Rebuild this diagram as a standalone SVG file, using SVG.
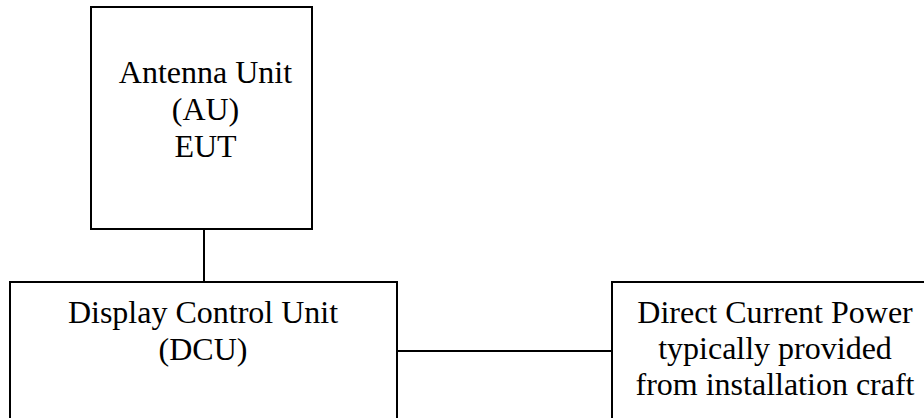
<svg xmlns="http://www.w3.org/2000/svg" width="924" height="418" viewBox="0 0 924 418">
<style>
.box{fill:#fff;stroke:#000;stroke-width:2}
.t{font-family:"Liberation Serif","Times New Roman",serif;font-size:32px;fill:#000;text-anchor:middle}
.c{stroke:#000;stroke-width:2;fill:none}
</style>
<rect width="924" height="418" fill="#fff"/>
<g id="connectors">
<line class="c" x1="204" y1="229" x2="204" y2="282"/>
<line class="c" x1="397" y1="351" x2="612" y2="351"/>
</g>
<g id="au">
<rect class="box" x="91" y="7" width="221" height="222"/>
<text class="t" x="205.5" y="83">Antenna Unit</text>
<text class="t" x="205.5" y="120">(AU)</text>
<text class="t" x="205.5" y="157">EUT</text>
</g>
<g id="dcu">
<rect class="box" x="10" y="282" width="387" height="160"/>
<text class="t" x="203" y="323">Display Control Unit</text>
<text class="t" x="203" y="360">(DCU)</text>
</g>
<g id="dc">
<rect class="box" x="612" y="282" width="330" height="160"/>
<text class="t" x="775" y="323">Direct Current Power</text>
<text class="t" x="775" y="359">typically provided</text>
<text class="t" x="775" y="395">from installation craft</text>
</g>
</svg>
